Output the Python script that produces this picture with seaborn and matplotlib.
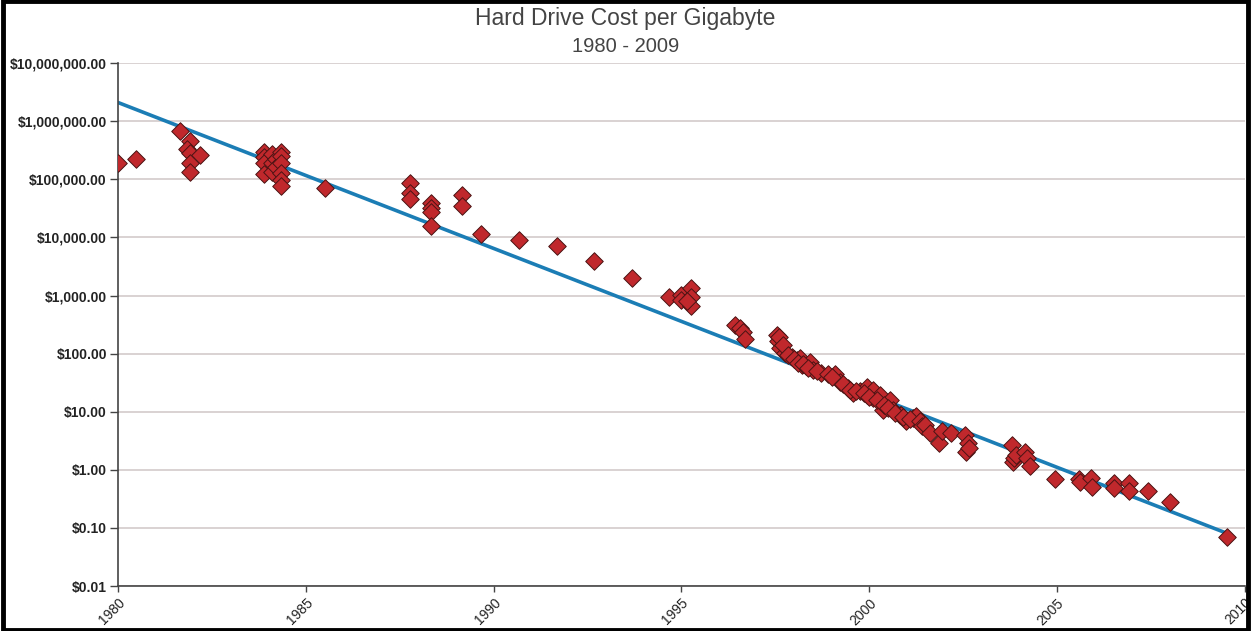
import numpy as np
import pandas as pd
import matplotlib.pyplot as plt
import matplotlib.ticker as mticker
from matplotlib.patches import Rectangle
import seaborn as sns

sns.set_theme(style="white")
plt.rcParams["font.family"] = ["Liberation Sans", "DejaVu Sans"]

# ============================================================
# DATA
# ============================================================
years = [
    1980.00, 1980.49,
    1981.65, 1981.91, 1981.85, 1981.93, 1982.18, 1981.91, 1981.91,
    1983.88, 1983.88, 1983.88, 1983.88,
    1984.11, 1984.11, 1984.11, 1984.20, 1984.20,
    1984.33, 1984.33, 1984.33, 1984.33, 1984.33, 1984.33,
    1985.50,
    1987.77, 1987.77, 1987.77,
    1988.34, 1988.34, 1988.34, 1988.34,
    1989.17, 1989.17, 1989.67,
    1990.68, 1991.69, 1992.68, 1993.68,
    1994.68, 1994.99, 1994.99, 1995.26, 1995.26, 1995.26, 1995.15,
    1996.43, 1996.56, 1996.65, 1996.69,
    1997.54, 1997.58, 1997.63, 1997.76, 1997.94, 1998.07, 1998.15, 1998.20,
    1998.33, 1998.42, 1998.51, 1998.73,
    1999.09, 1999.22, 1999.44, 1999.57, 1999.75, 1999.93, 1999.93,
    2000.11, 2000.11, 2000.28, 2000.28, 2000.37, 2000.46, 2000.55, 2000.64,
    2000.82, 2000.86, 2000.99, 2000.99, 2001.17, 2001.26,
    1997.60, 1997.70, 1997.85, 1998.00, 1998.10, 1998.25, 1998.38, 1998.60,
    1998.90, 1999.00, 1999.30, 1999.50, 1999.65, 1999.85, 2000.00, 2000.20,
    2000.40, 2000.50, 2000.70, 2000.90, 2001.10, 2001.35, 2001.40,
    2001.48, 2001.61, 2001.85, 2001.93, 2002.19,
    2002.55, 2002.63, 2002.59, 2002.65,
    2003.79, 2003.83, 2003.85, 2003.92, 2004.14, 2004.19, 2004.27,
    2004.94, 2005.58, 2005.62, 2005.91, 2005.93,
    2006.53, 2006.53, 2006.91, 2006.91, 2007.42,
    2008.00, 2009.52,
]
cost_per_gb = [
    190000, 223000,
    680000, 455000, 330000, 280000, 260000, 190000, 135000,
    300000, 240000, 190000, 125000,
    275000, 190000, 136000, 220000, 160000,
    300000, 255000, 190000, 130000, 98000, 76000,
    70000,
    88000, 58000, 45000,
    39000, 32000, 27000, 15500,
    54000, 35000, 11500,
    9100, 7000, 4000, 2000,
    960, 1020, 850, 1340, 960, 660, 790,
    315, 277, 240, 175,
    210, 162, 124, 102, 89, 78, 85, 64,
    60, 72, 53, 46,
    44, 33, 26, 21, 22.5, 19.6, 27,
    17, 24, 15, 19.6, 10.7, 12.3, 16, 10.7,
    8.8, 8.9, 7.2, 6.8, 7.8, 8.3,
    190, 140, 95, 82, 70, 66, 56, 50,
    45, 40, 30, 24, 23, 21, 18, 16,
    13, 11.5, 9.5, 8.0, 7.5, 7.0, 5.7,
    6.0, 4.3, 2.9, 4.6, 4.3,
    4.0, 2.9, 2.05, 2.35,
    2.7, 1.38, 1.6, 1.82, 2.05, 1.58, 1.15,
    0.70, 0.70, 0.62, 0.72, 0.51,
    0.60, 0.49, 0.59, 0.43, 0.43,
    0.28, 0.069,
]

# exponential trendline as drawn in the reference (start / end)
trend_years = [1980.0, 2009.52]
trend_cost = [2.1e6, 0.081]

df = pd.DataFrame({"year": years, "cost": cost_per_gb})
trend = pd.DataFrame({"year": trend_years, "cost": trend_cost})

# ============================================================
# PLOT
# ============================================================
fig = plt.figure(figsize=(12.51, 6.31), dpi=100)
ax = fig.add_axes([0.0943, 0.0713, 0.9007, 0.8287])

ax.set_yscale("log")
sns.lineplot(data=trend, x="year", y="cost", ax=ax, color="#1b7db5",
             linewidth=2.6, zorder=2)
sns.scatterplot(data=df, x="year", y="cost", ax=ax, marker="D", s=80,
                color="#c0282c", edgecolor="#4a1414", linewidth=0.7, zorder=3)

ax.set_ylim(0.01, 1e7)
ax.set_xlim(1980, 2010)

yticks = [10 ** k for k in range(-2, 8)]
ax.set_yticks(yticks)
ax.yaxis.set_minor_locator(mticker.NullLocator())
ax.yaxis.set_major_formatter(mticker.FuncFormatter(lambda v, p: f"${v:,.2f}"))
ax.set_xticks(range(1980, 2011, 5))

ax.grid(axis="y", color="#d3cbcb", linewidth=1.2)
ax.set_axisbelow(True)
for side in ["top", "right"]:
    ax.spines[side].set_visible(False)
for side in ["left", "bottom"]:
    ax.spines[side].set_color("#444444")
    ax.spines[side].set_linewidth(1.2)

ax.tick_params(axis="both", which="major", direction="out", length=6,
               width=1, color="#444444", bottom=True, left=True)
ax.tick_params(axis="x", length=4)
ax.tick_params(axis="y", labelsize=10, pad=2)
ax.tick_params(axis="x", labelsize=10, pad=3)
for lbl in ax.get_yticklabels():
    lbl.set_fontweight("bold")
    lbl.set_color("#222222")
for lbl in ax.get_xticklabels():
    lbl.set_rotation(45)
    lbl.set_ha("right")
    lbl.set_rotation_mode("anchor")
    lbl.set_color("#222222")
ax.set_xlabel("")
ax.set_ylabel("")

fig.text(0.5, 0.970, "Hard Drive Cost per Gigabyte", ha="center", va="center",
         fontsize=16.5, color="#444444")
fig.text(0.5, 0.927, "1980 - 2009", ha="center", va="center",
         fontsize=14.5, color="#444444")

# black frame around the whole picture
fig.patches.append(Rectangle((0.002, 0.002), 0.996, 0.996, transform=fig.transFigure,
                             fill=False, edgecolor="black", linewidth=3.5))

fig.savefig("out.png", dpi=100)
plt.close(fig)
